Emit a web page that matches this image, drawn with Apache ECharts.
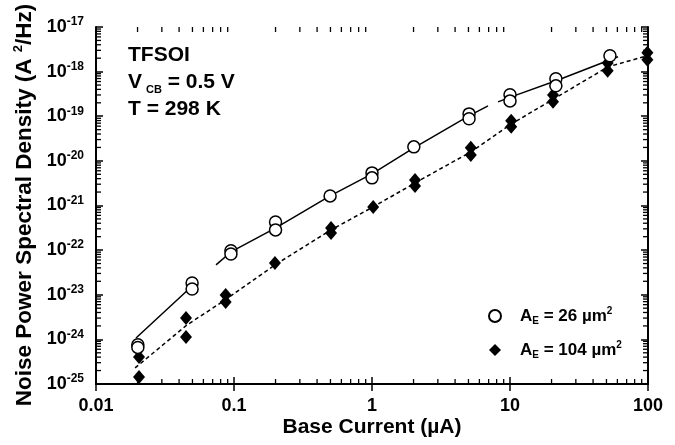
<!DOCTYPE html>
<html>
<head>
  <meta charset="utf-8">
  <title>TFSOI noise</title>
  <script src="https://cdn.jsdelivr.net/npm/echarts@6/dist/echarts.min.js"></script>
  <style>html,body{margin:0;padding:0;background:#fff;}</style>
</head>
<body>
  <div id="chart" style="width: 675px;height:445px;"></div>
  <script>
    const FONT = 'Liberation Sans, Arial, Helvetica, sans-serif';

    // A_E = 26 um^2, open circles
    const c26X = [0.0201, 0.0201, 0.0497, 0.0497, 0.095, 0.095, 0.2, 0.2, 0.497, 1.0, 1.0, 2.01, 5.05, 5.05, 10, 10, 21.5, 21.5, 53];
    const c26Y = [7.6e-25, 6.6e-25, 1.84e-23, 1.35e-23, 9.7e-23, 8.2e-23, 4.28e-22, 2.84e-22, 1.64e-21, 5.38e-21, 4.16e-21, 2.06e-20, 1.13e-19, 8.75e-20, 3.02e-19, 2.21e-19, 6.9e-19, 4.8e-19, 2.26e-18];

    // A_E = 104 um^2, filled diamonds
    const d104X = [0.0205, 0.0205, 0.0449, 0.0449, 0.087, 0.087, 0.198, 0.505, 0.505, 1.02, 2.05, 2.05, 5.2, 5.2, 10.2, 10.2, 20.5, 20.5, 51, 51, 99, 99];
    const d104Y = [4.0e-25, 1.44e-25, 3.02e-24, 1.13e-24, 9.9e-24, 6.9e-24, 5.16e-23, 3.15e-22, 2.43e-22, 9.3e-22, 3.75e-21, 2.75e-21, 1.96e-20, 1.36e-20, 7.9e-20, 5.8e-20, 3.0e-19, 2.1e-19, 1.57e-18, 1.05e-18, 2.64e-18, 1.84e-18];

    // fitted curves (null = gap in the line)
    const fit26X = [0.0195, 0.048, 0.0531, null, 0.0741, 0.095, 0.201, 0.497, 1.0, 2.01, 5.04, 6.93, null, 8.19, 10.2, 22.3, 60.6];
    const fit26Y = [1.07e-24, 1.42e-23, 1.84e-23, null, 4.66e-23, 9.1e-23, 3.15e-22, 1.64e-21, 5.1e-21, 1.95e-20, 1.02e-19, 1.71e-19, null, 2.1e-19, 2.72e-19, 6.5e-19, 2.15e-18];
    const fit104X = [0.0192, 0.0456, 0.0861, 0.198, 0.505, 1.02, 2.05, 5.21, 10.3, 20.8, 51.3, 98.4];
    const fit104Y = [2.29e-25, 2.1e-24, 7.6e-24, 4.66e-23, 2.84e-22, 9.3e-22, 3.2e-21, 1.59e-20, 6.8e-20, 2.45e-19, 1.28e-18, 2.26e-18];

    // axes
    const xTickLabels = ['0.01', '0.1', '1', '10', '100'];
    const yTickExps = [-25, -24, -23, -22, -21, -20, -19, -18, -17];
    const X_MIN = 0.01, X_MAX = 100;
    // a hair under 1e-25 so the bottom decade gets a real (labelled) tick
    const Y_MIN = 0.999e-25, Y_MAX = 1e-17;
    const minorMult = [2, 3, 4, 5, 6, 7, 8, 9];

    const pairs = (xs, ys) => xs.map((x, i) => [x, ys[i]]);

    const axisCommon = {
      type: 'log',
      logBase: 10,
      axisLine: { lineStyle: { color: '#000', width: 2 } },
      axisTick: { inside: true, length: 7, lineStyle: { color: '#000', width: 1.5 } },
      splitLine: { show: false }
    };

    const textGraphics = [
      {
        id: 'yname', type: 'text', x: 25, y: 205, rotation: Math.PI / 2,
        style: {
          text: '{t|Noise Power Spectral Density (A }{s|2}{t|/Hz)}',
          align: 'center', verticalAlign: 'middle',
          rich: {
            t: { fontFamily: FONT, fontWeight: 'bold', fontSize: 22.5, fill: '#000' },
            s: { fontFamily: FONT, fontWeight: 'bold', fontSize: 13, fill: '#000', padding: [0, 0, 14, 0] }
          }
        }
      },
      { id: 'dev', type: 'text', left: 128, top: 45, style: { text: 'TFSOI', font: 'bold 21px ' + FONT, fill: '#000' } },
      {
        id: 'vcb', type: 'text', left: 128, top: 72, style: {
          text: '{v|V}{s|CB}{v| = 0.5 V}',
          rich: {
            v: { fontFamily: FONT, fontWeight: 'bold', fontSize: 21, fill: '#000' },
            s: { fontFamily: FONT, fontWeight: 'bold', fontSize: 11, fill: '#000', padding: [14, 0, 0, 4] }
          }
        }
      },
      { id: 'temp', type: 'text', left: 128, top: 99, style: { text: 'T = 298 K', font: 'bold 21px ' + FONT, fill: '#000' } }
    ];

    let myChart = echarts.init(document.getElementById('chart'));
    let option = {
      animation: false,
      grid: { left: 96, right: 27, top: 27, bottom: 61, containLabel: false, outerBoundsMode: 'none' },
      xAxis: [
        Object.assign({}, axisCommon, {
          min: X_MIN, max: X_MAX, splitNumber: 4, position: 'bottom',
          name: 'Base Current (µA)',
          nameLocation: 'middle',
          nameGap: 33,
          nameMoveOverlap: false,
          nameTextStyle: { fontFamily: FONT, fontWeight: 'bold', fontSize: 21, color: '#000' },
          axisLabel: {
            margin: 13, color: '#000', fontFamily: FONT, fontWeight: 'bold', fontSize: 18,
            showMinLabel: true, showMaxLabel: true,
            formatter: function (v) {
              return xTickLabels[Math.round(Math.log10(v)) + 2];
            }
          }
        }),
        Object.assign({}, axisCommon, {
          min: X_MIN, max: X_MAX, splitNumber: 4, position: 'top', axisLabel: { show: false }
        })
      ],
      yAxis: [
        Object.assign({}, axisCommon, {
          min: Y_MIN, max: Y_MAX, splitNumber: 8, position: 'left',
          axisLabel: {
            margin: 12,
            showMinLabel: true, showMaxLabel: true,
            formatter: function (v) {
              if (!(v > 0)) return '';
              let lg = Math.log10(v), e = Math.round(lg);
              // skip the extent tick that sits just under 1e-25
              if (Math.abs(lg - e) > 1e-5) return '';
              return '{b|10}{s|' + e + '}';
            },
            rich: {
              b: { fontFamily: FONT, fontWeight: 'bold', fontSize: 18, lineHeight: 18, color: '#000' },
              s: { fontFamily: FONT, fontWeight: 'bold', fontSize: 12, lineHeight: 12, color: '#000', padding: [0, 0, 10, 0] }
            }
          }
        }),
        Object.assign({}, axisCommon, {
          min: Y_MIN, max: Y_MAX, splitNumber: 8, position: 'right', axisLabel: { show: false }
        })
      ],
      legend: {
        orient: 'vertical',
        left: 483,
        top: 301,
        itemWidth: 12,
        itemHeight: 12,
        itemGap: 14,
        data: [
          { name: 'c26', icon: 'circle' },
          { name: 'd104', icon: 'diamond' }
        ],
        formatter: function (name) {
          let a = name === 'c26' ? '26' : '104';
          return '{p|}{a|A}{e|E}{a| = ' + a + ' µm}{t|2}';
        },
        textStyle: {
          rich: {
            p: { width: 14 },
            a: { fontFamily: FONT, fontWeight: 'bold', fontSize: 17, color: '#000' },
            e: { fontFamily: FONT, fontWeight: 'bold', fontSize: 10, color: '#000', padding: [10, 0, 0, 0] },
            t: { fontFamily: FONT, fontWeight: 'bold', fontSize: 10, color: '#000', padding: [0, 0, 10, 0] }
          }
        }
      },
      graphic: textGraphics,
      series: [
        {
          name: 'fit26', type: 'line', data: pairs(fit26X, fit26Y), showSymbol: false, symbol: 'none',
          connectNulls: false, lineStyle: { color: '#000', width: 1.5 }, z: 2
        },
        {
          name: 'fit104', type: 'line', data: pairs(fit104X, fit104Y), showSymbol: false, symbol: 'none',
          lineStyle: { color: '#000', width: 1.5, type: [4, 3] }, z: 2
        },
        {
          name: 'd104', type: 'scatter', data: pairs(d104X, d104Y), symbol: 'diamond', symbolSize: [12, 14],
          itemStyle: { color: '#000', opacity: 1 }, z: 3
        },
        {
          name: 'c26', type: 'scatter', data: pairs(c26X, c26Y), symbol: 'circle', symbolSize: 12,
          itemStyle: { color: '#fff', borderColor: '#000', borderWidth: 1.5, opacity: 1 }, z: 4
        }
      ]
    };
    myChart.setOption(option);

    // minor log ticks on all four sides, placed through the chart's own scales
    const MINOR = 5;
    const toPx = v => myChart.convertToPixel({ gridIndex: 0 }, v);
    const lo = toPx([X_MIN, Y_MIN]), hi = toPx([X_MAX, Y_MAX]);
    let ticks = [];
    const tick = (x1, y1, x2, y2) => ticks.push({
      type: 'line', silent: true, z: 10,
      shape: { x1: x1, y1: y1, x2: x2, y2: y2 },
      style: { stroke: '#000', lineWidth: 1.3 }
    });
    for (let e = -2; e < 2; e++) {
      for (let m of minorMult) {
        const x = toPx([m * Math.pow(10, e), Y_MIN])[0];
        tick(x, lo[1], x, lo[1] - MINOR);
        tick(x, hi[1], x, hi[1] + MINOR);
      }
    }
    for (let e = yTickExps[0]; e < yTickExps[yTickExps.length - 1]; e++) {
      for (let m of minorMult) {
        const y = toPx([X_MIN, m * Math.pow(10, e)])[1];
        tick(lo[0], y, lo[0] + MINOR, y);
        tick(hi[0], y, hi[0] - MINOR, y);
      }
    }
    myChart.setOption({ graphic: textGraphics.concat(ticks) });
  </script>
</body>
</html>
